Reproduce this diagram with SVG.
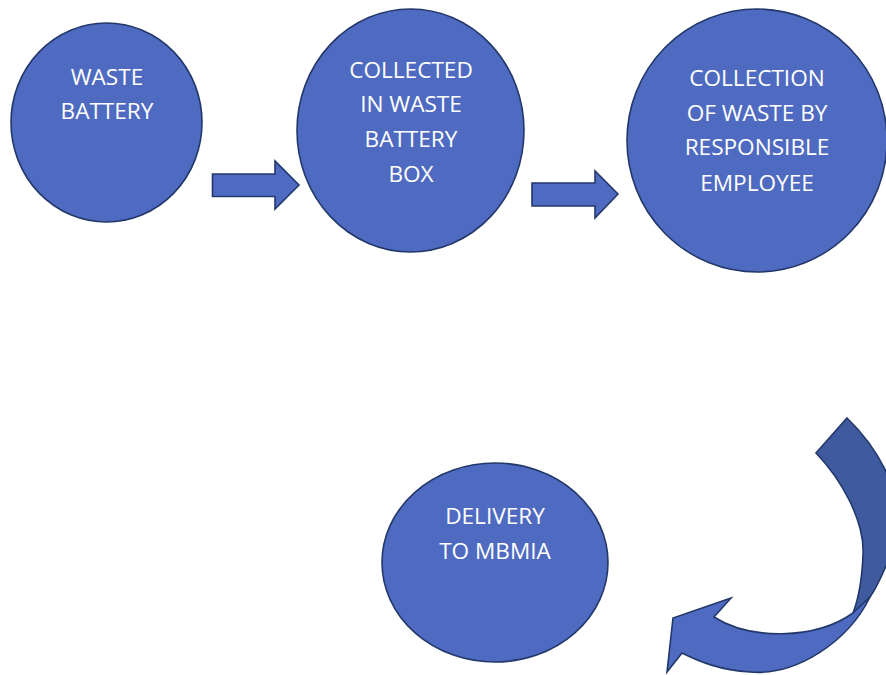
<svg xmlns="http://www.w3.org/2000/svg" width="886" height="675" viewBox="0 0 886 675">
<style>
.node{fill:#4F6BC1;stroke:#23386A;stroke-width:1.6}
.lbl{font-family:"Open Sans","Noto Sans","Liberation Sans",sans-serif;font-size:22.6px;fill:#FFFFFF;text-anchor:middle}
.arr{fill:#4F6BC1;stroke:#23386A;stroke-width:1.6;stroke-linejoin:miter}
.back{fill:#3F5A9E;stroke:#23386A;stroke-width:1.6;stroke-linejoin:miter}
</style>
<rect width="886" height="675" fill="#FFFFFF"/>
<g id="connectors">
<polygon class="arr" points="212.5,174 275,174 275,161 299,185 275,209 275,196.5 212.5,196.5"/>
<polygon class="arr" points="532,183 595,183 595,171 618,194 595,218 595,206 532,206"/>
<g id="curved-arrow">
<path class="back" d="M816,453 L847,418 C870,440 890,470 900,510 L900,560 L886,566 C880,580 875,590 870,597 L853,613 C858,600 862,580 863,555 C865,520 840,478 816,453 Z"/>
<path class="arr" d="M714,617 C750,640 815,640 853,613 L870,597 C848,642 796,676 750,672 C720,670 700,662 682,653 L667,672 L673,618 L731,598 Z"/>
</g>
</g>
<g id="n1">
<ellipse class="node" cx="106.5" cy="122.5" rx="95.5" ry="99.5"/>
<text class="lbl" x="107" y="85">WASTE</text>
<text class="lbl" x="107" y="119">BATTERY</text>
</g>
<g id="n2">
<ellipse class="node" cx="410.5" cy="130.5" rx="113.5" ry="121.5"/>
<text class="lbl" x="411" y="78">COLLECTED</text>
<text class="lbl" x="411" y="112">IN WASTE</text>
<text class="lbl" x="411" y="147">BATTERY</text>
<text class="lbl" x="411" y="182">BOX</text>
</g>
<g id="n3">
<ellipse class="node" cx="757" cy="140.5" rx="130" ry="131.5"/>
<text class="lbl" x="757" y="86">COLLECTION</text>
<text class="lbl" x="757" y="121">OF WASTE BY</text>
<text class="lbl" x="757" y="155">RESPONSIBLE</text>
<text class="lbl" x="757" y="191">EMPLOYEE</text>
</g>
<g id="n4">
<ellipse class="node" cx="495" cy="562.5" rx="113" ry="99.5"/>
<text class="lbl" x="495" y="524">DELIVERY</text>
<text class="lbl" x="495" y="559">TO MBMIA</text>
</g>
</svg>
